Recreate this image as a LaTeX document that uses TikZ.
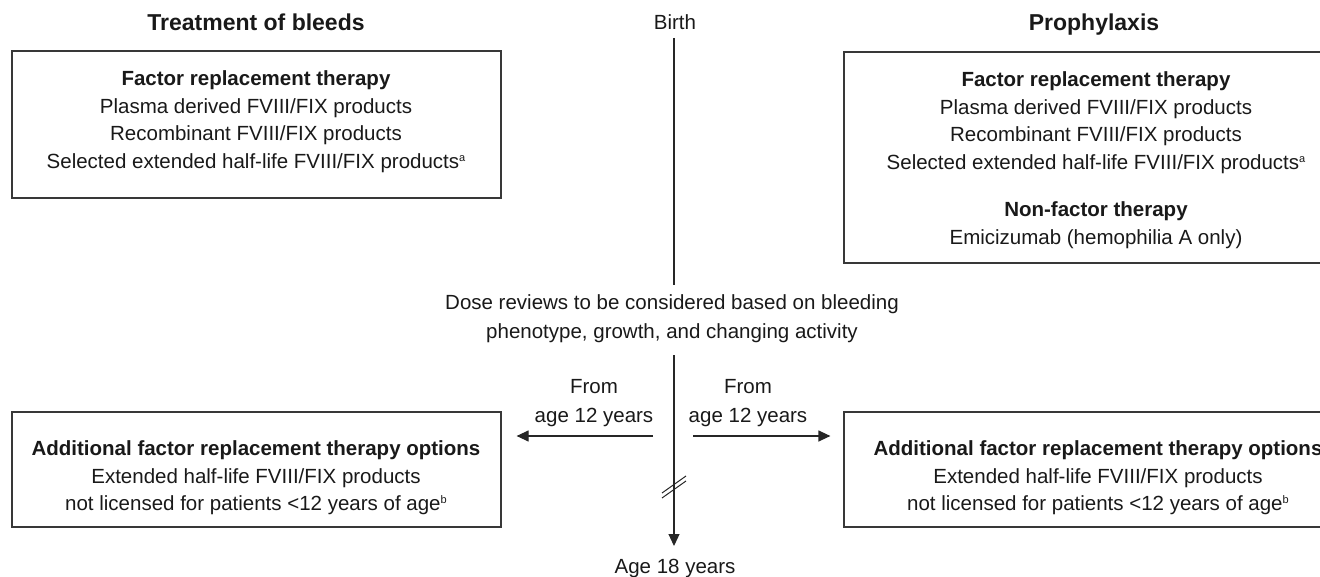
\documentclass[tikz,border=0pt]{standalone}
\usepackage{fontspec}
\setmainfont{Liberation Sans}
\usetikzlibrary{arrows.meta}
\newcommand{\supmark}[1]{\raisebox{7pt}{\fontsize{11}{11}\selectfont #1}}
\begin{document}
\begin{tikzpicture}[x=1pt,y=-1pt,
  boxframe/.style={draw=black!78, line width=1.2pt, inner sep=0pt},
  bodytext/.style={align=center, font=\fontsize{20.5}{27.5}\selectfont, inner sep=0pt, text=black!90},
  headtext/.style={font=\fontsize{23}{28}\selectfont\bfseries, inner sep=0pt, text=black!90, anchor=base},
  plaintext/.style={font=\fontsize{20.5}{29}\selectfont, inner sep=0pt, align=center, text=black!90},
  axisline/.style={line width=1.2pt, draw=black!85},
  tiparrow/.style={axisline, -{Triangle[length=12pt,width=11pt]}}
]
\useasboundingbox (0,0) rectangle (1320,577);
\clip (0,0) rectangle (1320,577);

% headings
\node[headtext] (htreat) at (256,31) {Treatment of bleeds};
\node[headtext] (hproph) at (1094,31) {Prophylaxis};
\node[plaintext, anchor=base] (birth) at (675,30) {Birth};

% top boxes
\node[boxframe, minimum width=489pt, minimum height=147pt] (tlbox) at (256.5,124.5) {};
\node[bodytext] (tltext) at (256,121.5) {\textbf{Factor replacement therapy}\\
Plasma derived FVIII/FIX products\\
Recombinant FVIII/FIX products\\
Selected extended half-life FVIII/FIX products\supmark{a}};

\node[boxframe, minimum width=506pt, minimum height=211pt] (trbox) at (1097,157.5) {};
\node[bodytext] (trtext) at (1096,160) {\textbf{Factor replacement therapy}\\
Plasma derived FVIII/FIX products\\
Recombinant FVIII/FIX products\\
Selected extended half-life FVIII/FIX products\supmark{a}\\[20pt]
\textbf{Non-factor therapy}\\
Emicizumab (hemophilia A only)};

% dose review
\node[plaintext] (dose) at (672,319) {Dose reviews to be considered based on bleeding\\
phenotype, growth, and changing activity};

% from labels
\node[plaintext] (fromL) at (594,403.5) {From\\age 12 years};
\node[plaintext] (fromR) at (748,403.5) {From\\age 12 years};

% bottom boxes
\node[boxframe, minimum width=489pt, minimum height=115pt] (blbox) at (256.5,469.5) {};
\node[bodytext] (bltext) at (256,478) {\textbf{Additional factor replacement therapy options}\\
Extended half-life FVIII/FIX products\\
not licensed for patients <12 years of age\supmark{b}};

\node[boxframe, minimum width=506pt, minimum height=115pt] (brbox) at (1097,469.5) {};
\node[bodytext] (brtext) at (1098,478) {\textbf{Additional factor replacement therapy options}\\
Extended half-life FVIII/FIX products\\
not licensed for patients <12 years of age\supmark{b}};

\node[plaintext] (age18) at (675,568) {Age 18 years};

% axis
\coordinate (axtop) at (674,38);
\coordinate (axmid) at (674,285);
\coordinate (axlow) at (674,355);
\coordinate (axend) at (674,546);
\draw[axisline] (axtop) -- (axmid);
\draw[tiparrow] (axlow) -- (axend);

% break mark
\coordinate (brA1) at (662,493);
\coordinate (brA2) at (686,476);
\coordinate (brB1) at (662,498);
\coordinate (brB2) at (686,481);
\draw[axisline, line width=1pt] (brA1) -- (brA2);
\draw[axisline, line width=1pt] (brB1) -- (brB2);

% side arrows
\coordinate (lstart) at (653,436);
\coordinate (rstart) at (693,436);
\draw[tiparrow] (lstart) -- ([xshift=15pt]lstart -| blbox.east);
\draw[tiparrow] (rstart) -- ([xshift=-13pt]rstart -| brbox.west);
\end{tikzpicture}
\end{document}
